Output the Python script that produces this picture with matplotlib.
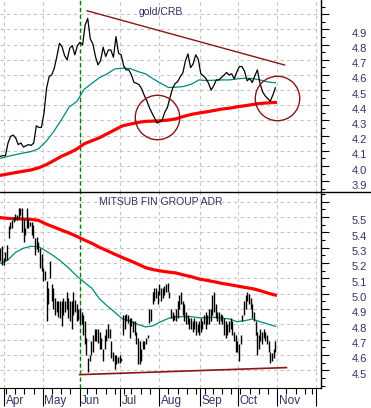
import matplotlib
matplotlib.use("Agg")
import matplotlib.pyplot as plt
import matplotlib.transforms as mtransforms
from matplotlib.lines import Line2D
import numpy as np
import pandas as pd

plt.rcParams['font.family'] = ['Liberation Sans', 'DejaVu Sans']

# trading calendar (2010, US holidays removed)
holidays = ['2010-04-02', '2010-05-31', '2010-07-05', '2010-09-06', '2010-11-25']
days = pd.bdate_range('2010-03-30', '2010-12-03')
days = days[~days.isin(pd.to_datetime(holidays))]
last_day = '2010-10-29'

# gold/CRB ratio (close), sampled evenly across the period
gold_crb = [4.064, 4.069, 4.069, 4.152, 4.195, 4.204, 4.184, 4.141, 4.152, 4.125,
            4.134, 4.141, 4.136, 4.152, 4.265, 4.254, 4.254, 4.349, 4.513, 4.589,
            4.600, 4.644, 4.721, 4.808, 4.786, 4.727, 4.699, 4.775, 4.793, 4.732,
            4.793, 4.815, 4.797, 4.928, 4.972, 4.837, 4.804, 4.721, 4.666, 4.694,
            4.782, 4.721, 4.764, 4.764, 4.716, 4.852, 4.742, 4.732, 4.659, 4.633,
            4.633, 4.600, 4.550, 4.545, 4.535, 4.508, 4.465, 4.430, 4.384, 4.349,
            4.316, 4.283, 4.292, 4.305, 4.355, 4.386, 4.451, 4.511, 4.543, 4.556,
            4.589, 4.613, 4.692, 4.738, 4.648, 4.672, 4.732, 4.703, 4.607, 4.594,
            4.576, 4.545, 4.500, 4.528, 4.567, 4.567, 4.583, 4.598, 4.616, 4.600,
            4.607, 4.574, 4.620, 4.655, 4.655, 4.624, 4.561, 4.576, 4.550, 4.594,
            4.633, 4.545, 4.489, 4.462, 4.445, 4.427, 4.467, 4.515]
gold_ma50 = [4.051, 4.064, 4.075, 4.086, 4.095, 4.114, 4.163, 4.228, 4.305, 4.388,
             4.425, 4.506, 4.545, 4.583, 4.607, 4.640, 4.644, 4.642, 4.622, 4.607,
             4.574, 4.545, 4.517, 4.519, 4.524, 4.539, 4.567, 4.563, 4.565, 4.567,
             4.567, 4.574, 4.578, 4.576, 4.567, 4.554, 4.548]
gold_ma200 = [3.939, 3.948, 3.957, 3.966, 3.974, 3.988, 4.009, 4.036, 4.064, 4.086,
              4.112, 4.147, 4.167, 4.187, 4.213, 4.239, 4.265, 4.276, 4.287, 4.294,
              4.296, 4.298, 4.303, 4.311, 4.327, 4.340, 4.349, 4.357, 4.366, 4.375,
              4.381, 4.390, 4.397, 4.405, 4.412, 4.416, 4.419]

# Mitsubishi UFJ ADR bars
mtu_high = [5.30, 5.31, 5.23, 5.27, 5.32, 5.44, 5.47, 5.48, 5.50, 5.52,
            5.51, 5.56, 5.56, 5.56, 5.49, 5.43, 5.56, 5.49, 5.47, 5.47,
            5.45, 5.36, 5.37, 5.34, 5.30, 5.26, 5.17, 5.15, 5.08, 5.04,
            5.21, 5.06, 5.04, 4.97, 4.95, 4.95, 4.95, 4.95, 4.97, 4.95,
            5.01, 4.97, 4.95, 4.95, 5.01, 4.96, 4.93, 4.90, 4.90, 4.88,
            4.86, 4.82, 4.71, 4.58, 4.60, 4.69, 4.73, 4.77, 4.77, 4.77,
            4.75, 4.71, 4.64, 4.73, 4.77, 4.80, 4.77, 4.69, 4.62, 4.60,
            4.60, 4.59, 4.60, 4.58, 4.86, 4.86, 4.87, 4.86, 4.84, 4.84,
            4.82, 4.82, 4.75, 4.71, 4.69, 4.64, 4.69, 4.69, 4.71, 4.73,
            4.90, 4.90, 5.01, 5.04, 5.04, 5.02, 5.06, 5.04, 5.04, 5.05,
            5.06, 5.07, 5.01, 4.90, 4.88, 4.86, 4.90, 4.95, 4.99, 5.01,
            4.95, 4.93, 4.88, 4.86, 4.84, 4.84, 4.82, 4.84, 4.82, 4.80,
            4.82, 4.84, 4.82, 4.86, 4.88, 4.86, 4.90, 4.90, 4.99, 5.01,
            4.93, 4.88, 4.88, 4.87, 4.86, 4.84, 4.82, 4.80, 4.82, 4.84,
            4.82, 4.75, 4.73, 4.69, 4.67, 4.73, 4.86, 4.95, 4.99, 5.01,
            5.00, 4.97, 4.93, 4.88, 4.82, 4.75, 4.73, 4.77, 4.75, 4.77,
            4.75, 4.73, 4.69, 4.62, 4.61, 4.64, 4.69]
mtu_low = [5.21, 5.19, 5.19, 5.21, 5.22, 5.36, 5.42, 5.43, 5.47, 5.48,
           5.48, 5.49, 5.51, 5.40, 5.34, 5.38, 5.43, 5.43, 5.44, 5.38,
           5.36, 5.25, 5.29, 5.27, 5.17, 5.15, 5.08, 5.09, 4.82, 4.93,
           5.10, 4.95, 4.90, 4.86, 4.88, 4.85, 4.84, 4.79, 4.86, 4.88,
           4.90, 4.84, 4.82, 4.77, 4.86, 4.88, 4.82, 4.83, 4.80, 4.80,
           4.73, 4.67, 4.60, 4.49, 4.56, 4.60, 4.62, 4.69, 4.69, 4.68,
           4.64, 4.64, 4.56, 4.64, 4.69, 4.71, 4.71, 4.58, 4.56, 4.51,
           4.54, 4.55, 4.55, 4.56, 4.73, 4.77, 4.82, 4.81, 4.71, 4.79,
           4.75, 4.73, 4.67, 4.54, 4.54, 4.56, 4.64, 4.64, 4.67, 4.71,
           4.81, 4.82, 4.93, 4.95, 4.97, 4.93, 4.99, 4.95, 4.97, 4.99,
           5.01, 5.01, 4.97, 4.84, 4.82, 4.83, 4.82, 4.84, 4.90, 4.93,
           4.86, 4.82, 4.80, 4.80, 4.77, 4.77, 4.75, 4.77, 4.73, 4.75,
           4.73, 4.75, 4.77, 4.80, 4.77, 4.80, 4.80, 4.82, 4.86, 4.88,
           4.84, 4.82, 4.80, 4.82, 4.80, 4.73, 4.71, 4.73, 4.75, 4.77,
           4.73, 4.69, 4.62, 4.62, 4.56, 4.67, 4.82, 4.86, 4.90, 4.95,
           4.93, 4.90, 4.84, 4.82, 4.73, 4.60, 4.64, 4.69, 4.67, 4.71,
           4.69, 4.67, 4.62, 4.55, 4.56, 4.58, 4.62]
mtu_ma50 = [5.198, 5.220, 5.270, 5.296, 5.309, 5.307, 5.278, 5.246, 5.209, 5.165,
            5.115, 5.074, 5.035, 4.965, 4.920, 4.878, 4.835, 4.822, 4.800, 4.783,
            4.791, 4.817, 4.839, 4.850, 4.850, 4.850, 4.843, 4.843, 4.846, 4.841,
            4.835, 4.817, 4.824, 4.835, 4.817, 4.802, 4.787]
mtu_ma200 = [5.496, 5.491, 5.489, 5.487, 5.485, 5.478, 5.454, 5.435, 5.415, 5.396,
             5.374, 5.350, 5.328, 5.302, 5.280, 5.257, 5.235, 5.215, 5.193, 5.170,
             5.157, 5.148, 5.141, 5.135, 5.122, 5.111, 5.096, 5.087, 5.078, 5.067,
             5.059, 5.050, 5.041, 5.033, 5.020, 5.004, 4.991]

# hand-drawn annotations
gold_trend_dates = ['2010-06-07', '2010-11-05']
gold_trend_vals = [5.022, 4.665]
mtu_trend_dates = ['2010-06-01', '2010-11-08']
mtu_trend_vals = [4.472, 4.518]
circle_dates = ['2010-07-30', '2010-11-01']
circle_vals = [4.323, 4.451]
marker_day = '2010-06-01'

gold_ticks = [3.9, 4.0, 4.1, 4.2, 4.3, 4.4, 4.5, 4.6, 4.7, 4.8, 4.9]
mtu_ticks = [4.5, 4.6, 4.7, 4.8, 4.9, 5.0, 5.1, 5.2, 5.3, 5.4, 5.5]


def pos(d):
    return days.get_loc(pd.Timestamp(d))


end = pos(last_day)
month_pos = [i for i in range(1, len(days)) if days[i].month != days[i - 1].month]
week_pos = [i for i in range(1, len(days)) if days[i].weekday() < days[i - 1].weekday()]

txt_col = '#333366'
red = '#ff0000'
teal = '#00897a'
dkred = '#8b1515'
XLIM = (-0.17, 173.7)

fig = plt.figure(figsize=(3.71, 4.08), dpi=100)
ax1 = fig.add_axes([0, 0.5282, 0.8652, 0.4718])
ax2 = fig.add_axes([0, 0.0483, 0.8652, 0.4799])


def style(ax, ylim, ticks):
    ax.set_xlim(*XLIM)
    ax.set_ylim(*ylim)
    ax.set_axisbelow(True)
    ax.yaxis.tick_right()
    major = ticks + [round(ticks[-1] + 0.1, 2)]
    ax.set_yticks(major)
    ax.set_yticklabels([f'{t:.1f}' for t in ticks] + [''])
    ax.set_yticks(np.arange(np.ceil(ylim[0] / 0.05) * 0.05, ylim[1], 0.05), minor=True)
    ax.tick_params(axis='y', which='major', direction='out', length=6, width=0.8,
                   pad=16, labelsize=8, labelcolor=txt_col)
    ax.tick_params(axis='y', which='minor', direction='out', length=3, width=0.8)
    ax.set_xticks(month_pos)
    ax.set_xticks(week_pos, minor=True)
    ax.grid(True, which='major', color='#c4c4c4', linestyle=(0, (3, 3)), linewidth=0.8)
    for s in ['left', 'top']:
        ax.spines[s].set_visible(False)
    ax.spines['right'].set_linewidth(1)
    off = mtransforms.ScaledTranslation(0, -2.5 / 72, fig.dpi_scale_trans)
    for lbl in ax.get_yticklabels():
        lbl.set_transform(lbl.get_transform() + off)


style(ax1, (3.826, 5.093), gold_ticks)
style(ax2, (4.383, 5.660), mtu_ticks)

ax1.spines['bottom'].set_visible(False)
ax1.tick_params(axis='x', which='both', bottom=False, labelbottom=False)
ax2.tick_params(axis='x', which='major', direction='out', length=13, width=0.8, labelbottom=False)
ax2.tick_params(axis='x', which='minor', direction='out', length=4, width=0.8)

# top panel
ax1.plot(np.linspace(0, end, len(gold_ma200)), gold_ma200, color=red, lw=2.3, zorder=3)
ax1.plot(np.linspace(0, end, len(gold_ma50)), gold_ma50, color=teal, lw=0.9, zorder=3)
ax1.plot(np.linspace(0, end, len(gold_crb)), gold_crb, color='black', lw=0.9, zorder=4)
ax1.plot([pos(d) for d in gold_trend_dates], gold_trend_vals, color=dkred, lw=1.0)
ax1.plot([pos(d) for d in circle_dates], circle_vals, linestyle='none', marker='o',
         ms=32, mfc='none', mec=dkred, mew=1.0, zorder=5)
ax1.text(0.5, 0.94, 'gold/CRB', transform=ax1.transAxes, ha='center', va='center',
         fontsize=7.5, color=txt_col)

# bottom panel
bx = np.linspace(0, end, len(mtu_high))
ax2.vlines(bx, mtu_low, mtu_high, color='black', lw=1.0, zorder=4)
ax2.plot(np.linspace(0, end, len(mtu_ma200)), mtu_ma200, color=red, lw=2.3, zorder=3)
ax2.plot(np.linspace(0, end, len(mtu_ma50)), mtu_ma50, color=teal, lw=0.9, zorder=3)
ax2.plot([pos(d) for d in mtu_trend_dates], mtu_trend_vals, color=dkred, lw=1.2)
ax2.text(0.5, 0.952, 'MITSUB FIN GROUP ADR', transform=ax2.transAxes, ha='center',
         va='center', fontsize=7.5, color=txt_col)

# month labels
tr = mtransforms.blended_transform_factory(ax2.transData, ax2.transAxes)
for m in month_pos:
    if m + 8 < XLIM[1]:
        ax2.text(m + 0.8, -0.066, days[m].strftime('%b'), transform=tr, ha='left',
                 va='center', fontsize=8.5, color=txt_col)

# green marker line
for ax in (ax1, ax2):
    ax.axvline(pos(marker_day), color='#008000', lw=1.0, linestyle=(0, (3, 2)), zorder=2)

# separator between panels
fig.add_artist(Line2D([0, 1], [0.5282, 0.5282], transform=fig.transFigure, color='black', lw=1))

fig.savefig('out.png', dpi=100)
